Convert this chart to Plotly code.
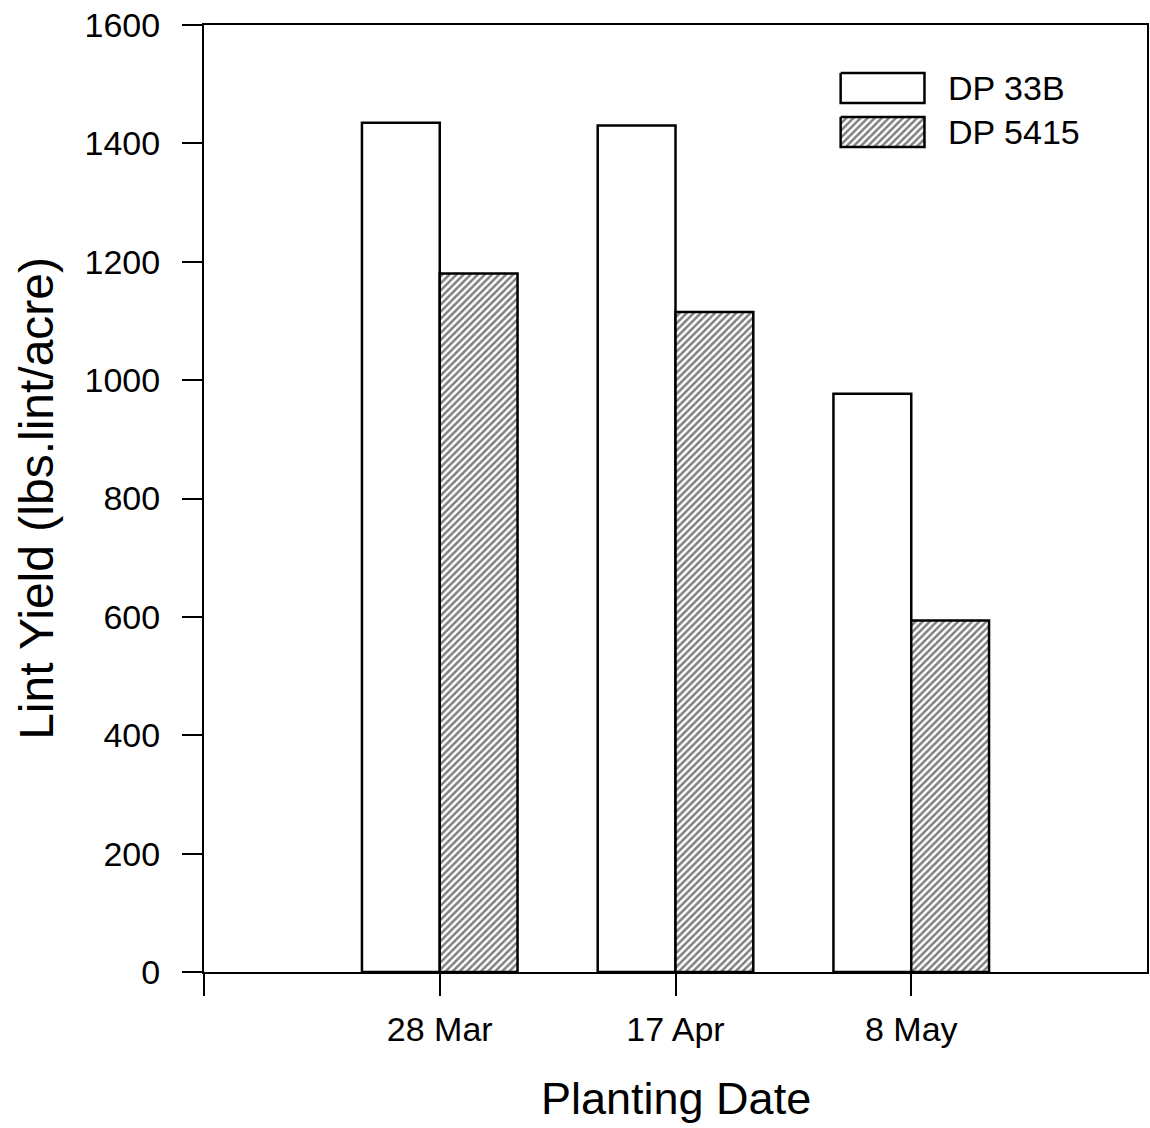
import plotly.graph_objects as go

# Lint yield by planting date for two cotton varieties
dates = ["28 Mar", "17 Apr", "8 May"]
date_pos = [1, 2, 3]
dp33b = [1435, 1430, 977]
dp5415 = [1180, 1115, 594]
y_ticks = [0, 200, 400, 600, 800, 1000, 1200, 1400, 1600]

FONT = "Liberation Sans, Arial, sans-serif"
hatch = dict(shape="/", fgcolor="black", bgcolor="white", size=5, solidity=0.5)

fig = go.Figure()
fig.add_trace(go.Bar(
    x=date_pos, y=dp33b, name="DP 33B", width=0.33, offset=-0.33,
    marker=dict(color="white", line=dict(color="black", width=2.5)),
    showlegend=False,
))
fig.add_trace(go.Bar(
    x=date_pos, y=dp5415, name="DP 5415", width=0.33, offset=0,
    marker=dict(color="white", pattern=hatch, line=dict(color="black", width=2.5)),
    showlegend=False,
))

# legend keys drawn on a pixel-scaled overlay so the swatches can be wide
keys = [("DP 33B", None, 73, 103), ("DP 5415", hatch, 117, 147)]
for label, pat, y0, y1 in keys:
    kw = dict(fillpattern=pat) if pat else {}
    fig.add_trace(go.Scatter(
        x=[842, 926, 926, 842, 842], y=[y0, y0, y1, y1, y0],
        xaxis="x2", yaxis="y2", mode="lines", fill="toself",
        fillcolor="white", line=dict(color="black", width=2.5),
        showlegend=False, hoverinfo="skip", **kw,
    ))
    fig.add_annotation(
        x=948, y=(y0 + y1) / 2, xref="x2", yref="y2", text=label,
        showarrow=False, xanchor="left", yanchor="middle",
        font=dict(family=FONT, size=34, color="black"),
    )

fig.update_layout(
    width=1150, height=1128,
    margin=dict(l=204, r=1, t=25, b=156),
    paper_bgcolor="white", plot_bgcolor="white",
    font=dict(family=FONT, color="black"),
    xaxis=dict(
        range=[0, 4], tickmode="array", tickvals=[0, 1, 2, 3],
        ticktext=[""] + dates, ticks="outside", ticklen=22,
        tickwidth=2, tickcolor="black", showline=True, linecolor="black",
        linewidth=2, mirror=True, showgrid=False, zeroline=False,
        tickfont=dict(size=34), ticklabelstandoff=4,
    ),
    yaxis=dict(
        range=[0, 1600], tickmode="array", tickvals=y_ticks,
        ticks="outside", ticklen=20, tickwidth=2, tickcolor="black",
        showline=True, linecolor="black", linewidth=2, mirror=True,
        showgrid=False, zeroline=False, tickfont=dict(size=34),
        ticklabelstandoff=15,
    ),
    xaxis2=dict(overlaying="x", range=[204, 1149], visible=False),
    yaxis2=dict(overlaying="y", range=[972, 25], visible=False),
)

fig.add_annotation(
    text="Lint Yield (lbs.lint/acre)", xref="paper", yref="paper",
    x=(36 - 204) / 945, y=0.5, textangle=-90, showarrow=False,
    xanchor="center", yanchor="middle",
    font=dict(family=FONT, size=48, color="black"),
)
fig.add_annotation(
    text="Planting Date", xref="paper", yref="paper",
    x=0.5, y=(972 - 1098) / 947, showarrow=False,
    xanchor="center", yanchor="middle",
    font=dict(family=FONT, size=45, color="black"),
)

fig.write_html("out.html")
